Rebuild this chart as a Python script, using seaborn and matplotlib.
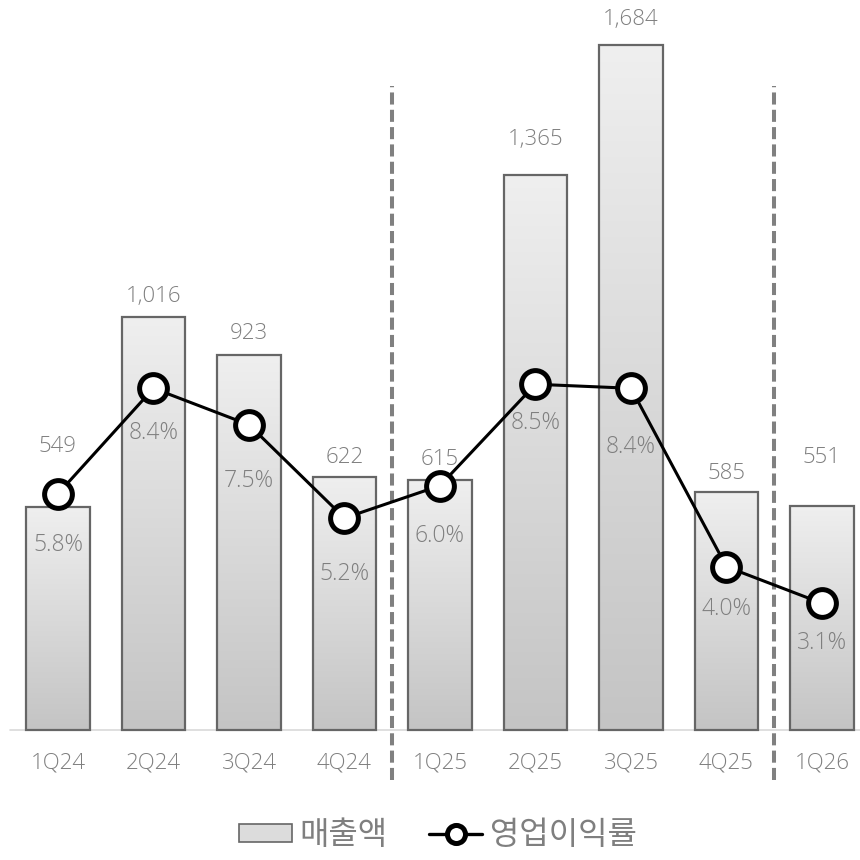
import numpy as np
import pandas as pd
import matplotlib
matplotlib.use("Agg")
import matplotlib.pyplot as plt
from matplotlib.patches import Patch
from matplotlib.lines import Line2D
import seaborn as sns

quarters = ["1Q24", "2Q24", "3Q24", "4Q24", "1Q25", "2Q25", "3Q25", "4Q25", "1Q26"]
revenue = [549, 1016, 923, 622, 615, 1365, 1684, 585, 551]
margin = [5.8, 8.4, 7.5, 5.2, 6.0, 8.5, 8.4, 4.0, 3.1]
legend_labels = ["매출액", "영업이익률"]

sns.set_theme(style="white")
plt.rcParams["font.family"] = ["Open Sans", "Noto Sans CJK KR", "DejaVu Sans"]
plt.rcParams["font.weight"] = "light"

GRAY_TXT = "#7f7f7f"
PX = 72.0 / 100.0  # points per pixel
W, H = 860, 860
fig = plt.figure(figsize=(8.6, 8.6), dpi=100)
fig.patch.set_facecolor("white")
ax = fig.add_axes([0, 0, 1, 1])

df = pd.DataFrame({"quarter": quarters, "revenue": revenue})
sns.barplot(data=df, x="quarter", y="revenue", ax=ax, width=0.67,
            color="#d9d9d9", edgecolor="#666666", linewidth=1.6, zorder=2)

# pixel-based limits
x0px, dx = 58.0, 95.5
xlim = (-x0px / dx, (W - x0px) / dx)
base_px = 730.0
s_bar = (730.0 - 45.0) / 1684.0
ylim = (-(H - base_px) / s_bar, base_px / s_bar)

# gradient fill clipped to each bar
grad = np.linspace(0, 1, 256).reshape(-1, 1)
cmap = matplotlib.colors.LinearSegmentedColormap.from_list("g", ["#c4c4c4", "#efefef"])
for p in ax.patches:
    bx, by = p.get_x(), p.get_y()
    bw, bh = p.get_width(), p.get_height()
    p.set_facecolor("none")
    im = ax.imshow(grad, cmap=cmap, aspect="auto", origin="lower",
                   extent=[bx, bx + bw, by, by + bh], zorder=1.5)
    im.set_clip_path(p)

ax.set_xlim(*xlim)
ax.set_ylim(*ylim)

# baseline
ax.axhline(0, xmin=10 / W, xmax=1, color="#d9d9d9", lw=1.2, zorder=1)

# bar value labels (pixel offsets above the bar tops)
val_offsets_px = [60, 20, 21, 19, 20, 35, 25, 19, 48]
for i, v in enumerate(revenue):
    ax.annotate(f"{v:,}", (i, v), xytext=(0, val_offsets_px[i] * PX), textcoords="offset points",
                ha="center", va="center", fontsize=16, color=GRAY_TXT, zorder=5)

# category labels
for i, q in enumerate(quarters):
    ax.annotate(q, (i, 0), xytext=(0, -33 * PX), textcoords="offset points",
                ha="center", va="center", fontsize=16, color=GRAY_TXT)

# dashed separators
for xs in (3.5, 7.5):
    ax.axvline(xs, ymin=(H - 780) / H, ymax=(H - 86) / H, color="#808080",
               lw=2.9, linestyle=(0, (3, 1.3)), zorder=3)

ax.set_axis_off()

# margin line on twin axis
ax2 = ax.twinx()
zero_px, s_line = 729.0, 40.56
ax2.set_ylim(-(H - zero_px) / s_line, zero_px / s_line)
sns.lineplot(x=np.arange(len(margin)), y=margin, ax=ax2, color="black", lw=2.2,
             marker="o", markersize=20, markerfacecolor="white",
             markeredgecolor="black", markeredgewidth=3.6, zorder=4)
ax2.set_xlim(*xlim)
pct_offsets_px = [51, 45, 56, 56, 50, 39, 59, 42, 40]
for i, m in enumerate(margin):
    ax2.annotate(f"{m:.1f}%", (i, m), xytext=(0, -pct_offsets_px[i] * PX), textcoords="offset points",
                 ha="center", va="center", fontsize=16.5, color=GRAY_TXT)
ax2.set_axis_off()

# legend
handles = [
    Patch(facecolor="#dcdcdc", edgecolor="#666666", linewidth=1.2),
    Line2D([0], [0], color="black", lw=2.4, marker="o", markersize=13,
           markerfacecolor="white", markeredgecolor="black", markeredgewidth=3.6),
]
leg = fig.legend(handles, legend_labels, loc="center", bbox_to_anchor=(438 / W, 1 - 836 / H),
                 ncol=2, frameon=False, fontsize=23, handlelength=1.65, handleheight=0.5,
                 handletextpad=0.25, columnspacing=1.3, labelcolor=GRAY_TXT)

fig.savefig("out.png", dpi=100, facecolor="white")
